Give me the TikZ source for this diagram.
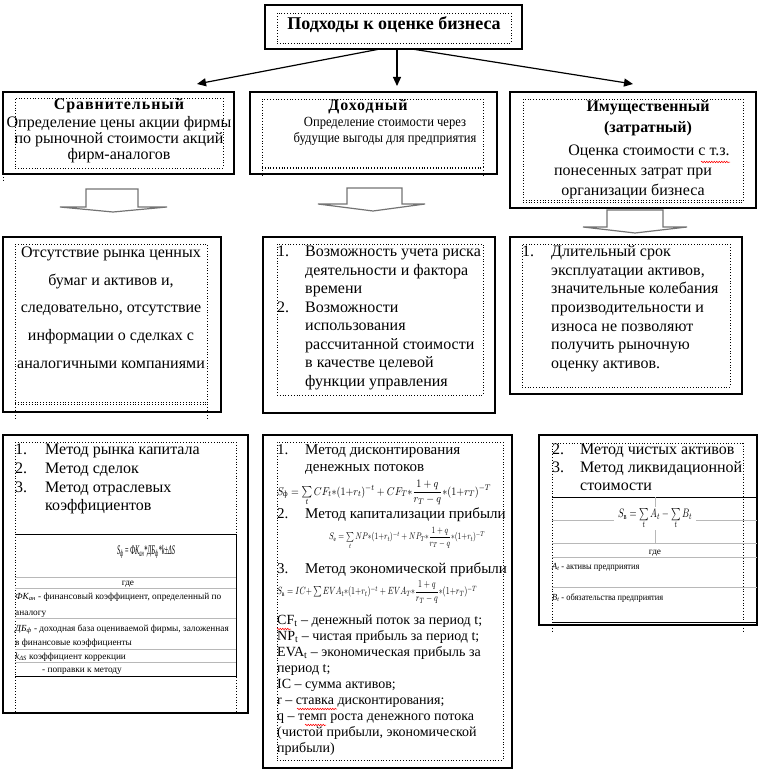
\documentclass[tikz,border=0pt]{standalone}
\usepackage{fontspec}
\usepackage{amsmath}
\setmainfont{Liberation Serif}
\usetikzlibrary{arrows.meta,decorations.pathmorphing}
\newcommand\mybox[6]{\node[#2, anchor=north west, inner sep=0pt, outer sep=0pt, minimum width={#5-#3}, minimum height={#6-#4}] (#1) at (#3,#4) {};}
\begin{document}
\begin{tikzpicture}[x=1pt,y=-1pt,
  frame/.style={draw=black, line width=1.2pt},
  dotframe/.style={draw=black, line width=0.8pt, dotted},
  grayline/.style={draw=black!28, line width=1pt},
  solidline/.style={draw=black, line width=1pt},
  arr/.style={draw=black, line width=1.2pt, -{Triangle[length=9pt,width=8pt]}},
  barrow/.style={draw=black!55, line width=1.2pt, line join=miter},
  wavy/.style={draw=red, line width=0.5pt, decorate, decoration={snake, amplitude=0.8pt, segment length=2.5pt}},
  lbl/.style={inner sep=0pt, text height=0.72em, text depth=0.22em},
  big/.style={lbl, font=\fontsize{16}{18}\selectfont},
  mid/.style={lbl, font=\fontsize{15}{17}\selectfont},
  sm/.style={lbl, font=\fontsize{14}{16}\selectfont},
  tiny/.style={lbl, font=\fontsize{9.3}{11}\selectfont},
  hd/.style={lbl, font=\bfseries\fontsize{16}{18}\selectfont},
  fml/.style={inner sep=0pt, outer sep=0pt, font=\fontsize{11}{13}\selectfont}
]
\useasboundingbox (0,0) rectangle (778,773);
% ---------- top ----------
\mybox{top}{frame}{265}{5}{522}{49}
\mybox{topin}{dotframe}{277}{13}{511}{43}
\node[lbl, font=\bfseries\fontsize{18}{20}\selectfont] (title) at (394,27) {Подходы к оценке бизнеса};
\coordinate (e1) at (197,84);
\coordinate (e2) at (397,86);
\coordinate (e3) at (633,84);
\draw[arr] ([xshift=-13.5pt]top.south) -- (e1);
\draw[arr] ([xshift=3.5pt]top.south) -- (e2);
\draw[arr] ([xshift=18.5pt]top.south) -- (e3);
% ---------- row 2 ----------
\mybox{b1}{frame}{3}{92}{234}{174}
\mybox{b1in}{dotframe}{15}{98}{223}{168}
\draw[dotframe] (3,174) -- (3,180);
\node[hd] (h1) at (119,107) {\addfontfeature{LetterSpace=6}Сравнительный};
\node[big] (t1a) at (119,125) {Определение цены акции фирмы};
\node[big] (t1b) at (119,141) {по рыночной стоимости акций};
\node[big] (t1c) at (119,157) {фирм-аналогов};

\mybox{b2}{frame}{250}{92}{497}{174}
\mybox{b2in}{dotframe}{262}{99}{483}{167}
\draw[dotframe] (262,167) -- (262,177) (483,167) -- (483,177);
\draw[dotframe] (262,168.5) -- (483,168.5);
\node[hd] (h2) at (368,108) {\addfontfeature{LetterSpace=6}Доходный};
\node[lbl, font=\fontsize{14}{16}\selectfont] (t2a) at (385,124) {\scalebox{0.9}[1]{Определение стоимости через}};
\node[lbl, font=\fontsize{14}{16}\selectfont] (t2b) at (385,140) {\scalebox{0.9}[1]{будущие выгоды для предприятия}};

\mybox{b3}{frame}{510}{92}{756}{208}
\mybox{b3in}{dotframe}{523}{99}{743}{202}
\draw[dotframe] (523,200.5) -- (743,200.5);
\node[hd] (h3a) at (648,109) {Имущественный};
\node[hd] (h3b) at (648,130) {(затратный)};
\node[big] (t3a) at (649,153) {Оценка стоимости с т.з.};
\node[big] (t3b) at (633,173) {понесенных затрат при};
\node[big] (t3c) at (633,193) {организации бизнеса};
\draw[wavy] (701,162) -- (730,162);

% ---------- block arrows ----------
\draw[barrow] (86,207) -- (86,189) -- (138,189) -- (138,207) -- (167,207) -- (113,212) -- (60,207) -- cycle;
\draw[barrow] (347,204) -- (347,188) -- (402,188) -- (402,204) -- (425,204) -- (373,211) -- (318,204) -- cycle;
\draw[barrow] (607,227) -- (607,210) -- (663,210) -- (663,227) -- (687,227) -- (635,233) -- (583,227) -- cycle;

% ---------- row 3 ----------
\mybox{c1}{frame}{3}{237}{221}{412}
\mybox{c1in}{dotframe}{15}{244}{207}{404}
\draw[dotframe] (15,402.5) -- (207,402.5);
\draw[dotframe] (15,404) -- (15,420) (207,404) -- (207,420);
\node[big] (u1) at (111,255) {Отсутствие рынка ценных};
\node[big] (u2) at (111,283) {бумаг и активов и,};
\node[big] (u3) at (111,310) {следовательно, отсутствие};
\node[big] (u4) at (111,338) {информации о сделках с};
\node[big] (u5) at (111,366) {аналогичными компаниями};

\mybox{c2}{frame}{263}{237}{495}{413}
\mybox{c2in}{dotframe}{277}{244}{483}{395}
\node[big, anchor=west] (n21) at (277,254) {1.};
\node[big, anchor=west] (n22) at (277,310) {2.};
\foreach \s [count=\i] in {Возможность учета риска, деятельности и фактора, времени, Возможности, использования, рассчитанной стоимости, в качестве целевой, функции управления}
  \node[big, anchor=west] (v\i) at (305,{254+18.57*(\i-1)}) {\s};

\mybox{c3}{frame}{510}{237}{742}{394}
\mybox{c3in}{dotframe}{522}{244}{730}{387}
\node[big, anchor=west] (n31) at (522,254) {1.};
\foreach \s [count=\i] in {Длительный срок, {эксплуатации активов,}, значительные колебания, производительности и, износа не позволяют, получить рыночную, оценку активов.}
  \node[big, anchor=west] (w\i) at (551,{254+18.67*(\i-1)}) {\s};

% ---------- row 4 left ----------
\mybox{d1}{frame}{3}{435}{248}{713}
\draw[dotframe] (15,442) -- (236,442);
\draw[dotframe] (15,442) -- (15,713) (236,442) -- (236,713);
\node[big, anchor=west] (m11) at (15,452) {1.};
\node[big, anchor=west] (m12) at (15,471) {2.};
\node[big, anchor=west] (m13) at (15,490) {3.};
\node[big, anchor=west] (k1) at (45,452) {Метод рынка капитала};
\node[big, anchor=west] (k2) at (45,471) {Метод сделок};
\node[big, anchor=west] (k3) at (45,490) {Метод отраслевых};
\node[big, anchor=west] (k4) at (45,508) {коэффициентов};
\draw[solidline] (15,534) -- (236,534) -- (236,676) -- (15,676);
\foreach \yy in {577,588,618,649,662} \draw[grayline] (15,\yy) -- (236,\yy);
\node[fml] (fl) at (146,552) {\resizebox*{58pt}{13pt}{\itshape S\textsubscript{ф}\,=\,ФК\textsubscript{ан}*ДБ\textsubscript{ф}*k±ΔS}};
\node[tiny] (gd1) at (128,583) {где};
\node[tiny, anchor=west] (p1) at (15,597) {{\itshape ФК\textsubscript{ан}} - финансовый коэффициент, определенный по};
\node[tiny, anchor=west] (p2) at (15,613) {аналогу};
\node[tiny, anchor=west] (p3) at (15,629) {{\itshape ДБ\textsubscript{ф}} -  доходная база оцениваемой фирмы, заложенная};
\node[tiny, anchor=west] (p4) at (15,643) {в финансовые коэффициенты};
\node[tiny, anchor=west] (p5) at (15,657) {{\itshape k\textsubscript{ΔS}} коэффициент коррекции};
\node[tiny, anchor=west] (p6) at (42,670) {- поправки к методу};

% ---------- row 4 middle ----------
\mybox{d2}{frame}{263}{435}{512}{768}
\mybox{d2in}{dotframe}{277}{442}{503}{760}
\node[mid, anchor=west] (q1) at (277,452) {1.};
\node[mid, anchor=west] (r1) at (305,452) {Метод дисконтирования};
\node[mid, anchor=west] (r1b) at (305,469) {денежных потоков};
\node[fml, anchor=north west] (f1) at (277,480) {\resizebox*{214pt}{26pt}{$S_{\text{ф}}=\sum\limits_t CF_t{*}(1{+}r_t)^{-t}+CF_T{*}\dfrac{1+q}{r_T-q}{*}(1{+}r_T)^{-T}$}};
\node[mid, anchor=west] (q2) at (277,516) {2.};
\node[mid, anchor=west] (r2) at (305,516) {Метод капитализации прибыли};
\node[fml, anchor=north west] (f2) at (329,527) {\resizebox*{156pt}{22pt}{$S_{\text{е}}=\sum\limits_t NP{*}(1{+}r_t)^{-t}+NP_T{*}\dfrac{1+q}{r_T-q}{*}(1{+}r_t)^{-T}$}};
\node[mid, anchor=west] (q3) at (277,571) {3.};
\node[mid, anchor=west] (r3) at (305,571) {Метод экономической прибыли};
\node[fml, anchor=north west] (f3) at (277,581) {\resizebox*{200pt}{23pt}{$S_{\text{в}}=IC{+}\sum EVA_t{*}(1{+}r_t)^{-t}+EVA_T{*}\dfrac{1+q}{r_T-q}{*}(1{+}r_T)^{-T}$}};
\foreach \s [count=\i] in {CF\textsubscript{t} – денежный поток за период t;, NP\textsubscript{t} – чистая прибыль за период t;, EVA\textsubscript{t} – экономическая прибыль за, период t;, IC – сумма активов;, r – ставка дисконтирования;, q – темп роста денежного потока, {(чистой прибыли, экономической}, прибыли)}
  \node[sm, anchor=west] (s\i) at (277,{622+16*(\i-1)}) {\s};
\draw[wavy] (277,629) -- (291,629);
\draw[wavy] (297,709) -- (337,709);
\draw[wavy] (305,725) -- (326,725);

% ---------- row 4 right ----------
\mybox{d3}{frame}{539}{435}{757}{625}
\draw[dotframe] (552,443) -- (743,443);
\draw[dotframe] (552,443) -- (552,632) (743,443) -- (743,632);
\node[big, anchor=west] (x2) at (552,452) {2.};
\node[big, anchor=west] (x3) at (552,470) {3.};
\node[big, anchor=west] (y1) at (580,452) {Метод чистых активов};
\node[big, anchor=west] (y2) at (580,470) {Метод ликвидационной};
\node[big, anchor=west] (y3) at (580,488) {стоимости};
\draw[solidline] (552,497) -- (757,497);
\draw[grayline] (552,520) -- (614,520) (696,520) -- (757,520);
\draw[grayline] (655,497) -- (655,507) (655,530) -- (655,543);
\foreach \yy in {543,557,587} \draw[grayline] (552,\yy) -- (757,\yy);
\draw[solidline] (552,622) -- (757,622);
\node[fml, anchor=north west] (f4) at (618,508) {\resizebox*{74pt}{21pt}{$S_{\text{в}}=\sum\limits_t A_t-\sum\limits_t B_t$}};
\node[tiny] (gd2) at (655,552) {где};
\node[tiny, anchor=west] (z1) at (552,567) {\scalebox{0.9}[1]{{\itshape A\textsubscript{t}} - активы предприятия}};
\node[tiny, anchor=west] (z2) at (552,598) {\scalebox{0.9}[1]{{\itshape B\textsubscript{t}} - обязательства предприятия}};
\end{tikzpicture}
\end{document}
